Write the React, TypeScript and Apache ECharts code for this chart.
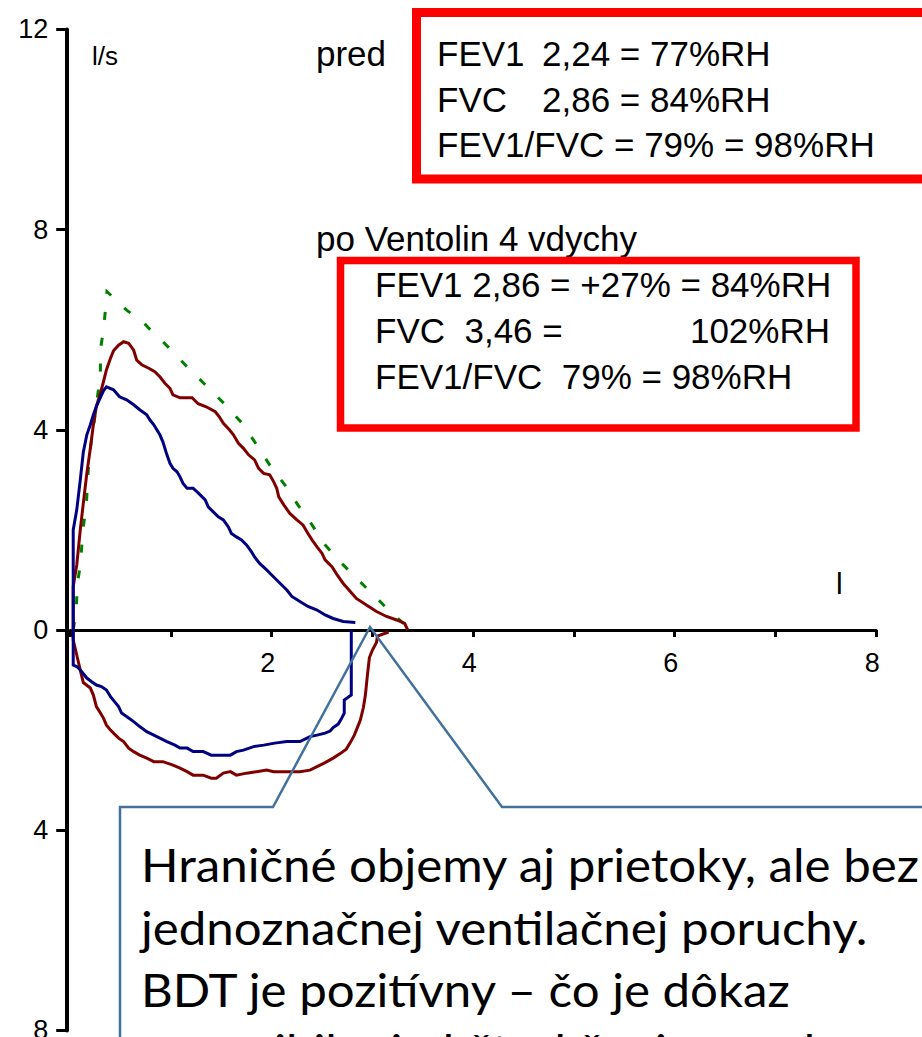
import React, { useEffect, useRef } from "react";
import * as echarts from "echarts";

// Flow–volume loops: predicted expiratory curve, pre-bronchodilator loop and post-Ventolin loop.
// Volume in litres on x, flow in l/s on y (inspiration drawn below zero).

const predExp: [number, number][] = [
  [0.03, 0], [0.06, 0.4], [0.07, 0.9], [0.1, 1.3], [0.13, 2.06], [0.16, 2.5], [0.18, 3.23],
  [0.2, 3.63], [0.23, 4.05], [0.26, 4.5], [0.28, 4.8], [0.3, 5.2], [0.3, 5.6], [0.33, 6.0],
  [0.35, 6.4], [0.365, 6.76], [0.51, 6.49], [0.56, 6.39], [0.72, 6.16], [0.78, 6.03],
  [0.92, 5.76], [0.97, 5.66], [1.16, 5.26], [1.34, 4.9], [1.54, 4.5], [1.72, 4.1],
  [1.85, 3.7], [1.98, 3.3], [2.13, 2.9], [2.26, 2.5], [2.4, 2.1], [2.53, 1.7], [2.71, 1.3],
  [2.91, 0.9], [3.11, 0.5], [3.34, 0.07], [3.35, 0],
];

const preExp: [number, number][] = [
  [0.03, 0], [0.03, 2.0], [0.065, 2.4], [0.1, 3.0], [0.13, 3.55], [0.165, 3.9], [0.2, 4.1],
  [0.23, 4.3], [0.26, 4.47], [0.3, 4.65], [0.33, 4.78], [0.36, 4.86], [0.43, 4.8], [0.46, 4.73],
  [0.49, 4.66], [0.56, 4.6], [0.63, 4.5], [0.69, 4.4], [0.76, 4.3], [0.79, 4.2], [0.83, 4.1],
  [0.86, 4.0], [0.89, 3.9], [0.92, 3.76], [0.96, 3.5], [0.99, 3.33], [1.02, 3.23], [1.06, 3.16],
  [1.09, 3.06], [1.12, 2.93], [1.16, 2.83], [1.22, 2.83], [1.26, 2.76], [1.29, 2.7], [1.34, 2.6],
  [1.37, 2.46], [1.42, 2.36], [1.47, 2.26], [1.52, 2.2], [1.57, 2.06], [1.6, 1.93], [1.65, 1.86],
  [1.7, 1.8], [1.75, 1.7], [1.8, 1.56], [1.83, 1.46], [1.88, 1.33], [1.95, 1.2], [2.0, 1.1],
  [2.05, 1.0], [2.1, 0.9], [2.15, 0.8], [2.2, 0.67], [2.28, 0.57], [2.36, 0.47], [2.45, 0.4],
  [2.53, 0.3], [2.61, 0.23], [2.71, 0.17], [2.83, 0.15],
];

const preInsp: [number, number][] = [
  [2.79, 0], [2.79, -1.3], [2.72, -1.4], [2.72, -1.66], [2.69, -1.78], [2.66, -1.88],
  [2.61, -1.95], [2.58, -2.02], [2.53, -2.06], [2.45, -2.1], [2.38, -2.13], [2.28, -2.23],
  [2.15, -2.23], [2.03, -2.26], [1.92, -2.3], [1.82, -2.33], [1.72, -2.4], [1.65, -2.43],
  [1.59, -2.5], [1.49, -2.5], [1.4, -2.5], [1.32, -2.43], [1.22, -2.43], [1.16, -2.36],
  [1.09, -2.36], [1.04, -2.3], [0.96, -2.23], [0.89, -2.16], [0.83, -2.1], [0.76, -2.03],
  [0.69, -1.93], [0.63, -1.83], [0.58, -1.76], [0.51, -1.66], [0.48, -1.53], [0.44, -1.43],
  [0.4, -1.33], [0.36, -1.2], [0.31, -1.13], [0.26, -1.1], [0.21, -1.03], [0.165, -0.96],
  [0.1, -0.8], [0.065, -0.73], [0.03, -0.7], [0.03, 0],
];

const postExp: [number, number][] = [
  [0.03, 0], [0.03, 0.87], [0.065, 1.3], [0.1, 2.0], [0.13, 2.53], [0.165, 3.13], [0.2, 3.63],
  [0.23, 4.1], [0.26, 4.47], [0.3, 4.73], [0.33, 4.96], [0.36, 5.2], [0.4, 5.43], [0.43, 5.58],
  [0.48, 5.69], [0.53, 5.76], [0.58, 5.73], [0.63, 5.59], [0.66, 5.39], [0.71, 5.3], [0.78, 5.23],
  [0.84, 5.16], [0.89, 5.06], [0.94, 4.93], [0.99, 4.83], [1.02, 4.7], [1.09, 4.64], [1.21, 4.64],
  [1.27, 4.52], [1.35, 4.46], [1.44, 4.36], [1.48, 4.26], [1.52, 4.13], [1.58, 4.0], [1.62, 3.9],
  [1.67, 3.73], [1.72, 3.63], [1.77, 3.5], [1.83, 3.4], [1.87, 3.23], [1.92, 3.13], [1.98, 3.1],
  [2.02, 2.96], [2.05, 2.83], [2.07, 2.66], [2.12, 2.5], [2.18, 2.33], [2.25, 2.2], [2.31, 2.1],
  [2.36, 1.93], [2.4, 1.8], [2.45, 1.66], [2.5, 1.53], [2.53, 1.4], [2.6, 1.26], [2.65, 1.1],
  [2.71, 0.93], [2.78, 0.77], [2.84, 0.63], [2.94, 0.5], [3.04, 0.37], [3.14, 0.27], [3.24, 0.2],
  [3.32, 0.13], [3.35, 0],
];

const postInsp: [number, number][] = [
  [3.16, -0.04], [3.05, -0.12], [3.04, -0.25], [3.0, -0.4], [2.97, -0.55], [2.95, -0.9],
  [2.93, -1.3], [2.91, -1.55], [2.88, -1.8], [2.85, -1.95], [2.82, -2.1], [2.78, -2.25],
  [2.74, -2.38], [2.68, -2.47], [2.61, -2.56], [2.53, -2.65], [2.45, -2.73], [2.38, -2.8],
  [2.28, -2.83], [2.15, -2.83], [2.02, -2.83], [1.95, -2.8], [1.85, -2.83], [1.75, -2.86],
  [1.65, -2.9], [1.59, -2.83], [1.52, -2.86], [1.45, -2.96], [1.4, -2.96], [1.32, -2.9],
  [1.22, -2.9], [1.16, -2.83], [1.09, -2.76], [1.02, -2.7], [0.92, -2.63], [0.83, -2.63],
  [0.76, -2.56], [0.69, -2.5], [0.63, -2.43], [0.58, -2.36], [0.53, -2.23], [0.48, -2.16],
  [0.43, -2.06], [0.4, -2.0], [0.36, -1.9], [0.33, -1.76], [0.3, -1.66], [0.26, -1.53],
  [0.23, -1.3], [0.2, -1.16], [0.13, -1.05], [0.1, -0.8], [0.065, -0.5], [0.03, -0.2], [0.03, 0],
];

const predLines = ["FEV1", "2,24 = 77%RH", "FVC", "2,86 = 84%RH", "FEV1/FVC = 79% = 98%RH"];
const postLines = ["FEV1 2,86 = +27% = 84%RH", "FVC  3,46 =", "102%RH", "FEV1/FVC  79% = 98%RH"];
const noteLines = [
  "Hraničné objemy aj prietoky, ale bez",
  "jednoznačnej ventilačnej poruchy.",
  "BDT je pozitívny – čo je dôkaz",
  "reverzibilnej obštrukčnej poruchy",
];

const PIX = '"Liberation Sans", Arial, sans-serif';
const NOTE = 'Lato, "Open Sans", sans-serif';

// flow axis spans -8..12 l/s; the volume axis is drawn where flow = 0
const Y_MIN = -8;
const Y_MAX = 12;
const GRID_TOP = 29.4;
const GRID_BOTTOM = 6.6;
const PLOT_H = 1037 - GRID_TOP - GRID_BOTTOM;
const ZERO_SHIFT = (PLOT_H * (0 - Y_MIN)) / (Y_MAX - Y_MIN);

function txt(text: string, x: number, y: number, size: number, align = "left", family = PIX, scaleX = 1) {
  return {
    type: "text",
    x,
    y,
    scaleX,
    silent: true,
    style: {
      text,
      fill: "#000",
      fontSize: size,
      fontFamily: family,
      align,
      textAlign: align,
      verticalAlign: "middle",
      textVerticalAlign: "middle",
    },
  };
}

export default function App() {
  const ref = useRef<HTMLDivElement>(null);

  useEffect(() => {
    if (!ref.current) return;
    const chart = echarts.init(ref.current, undefined, { renderer: "svg" });

    const curve = (name: string, data: [number, number][], color: string, dashed = false) => ({
      type: "line",
      name,
      data,
      symbol: "none",
      smooth: false,
      z: dashed ? 2 : 3,
      lineStyle: {
        color,
        width: 3,
        type: dashed ? [8, 18] : "solid",
        cap: "butt",
        join: "miter",
      },
    });

    chart.setOption({
      animation: false,
      backgroundColor: "#fff",
      grid: {
        left: 70.2,
        right: 45.8,
        top: GRID_TOP,
        bottom: GRID_BOTTOM,
        containLabel: false,
        outerBoundsMode: "none",
      },
      xAxis: {
        type: "value",
        min: 0,
        max: 8,
        interval: 1,
        position: "bottom",
        offset: -ZERO_SHIFT,
        axisLine: { onZero: false, lineStyle: { color: "#000", width: 3 } },
        axisTick: { show: true, inside: false, length: 7, lineStyle: { color: "#000", width: 3 } },
        axisLabel: {
          color: "#000",
          fontSize: 27,
          fontFamily: PIX,
          margin: 19,
          padding: [0, 8, 0, 0],
          formatter: (v: number) => (v > 0 && v % 2 === 0 ? String(v) : ""),
        },
        splitLine: { show: false },
      },
      yAxis: {
        type: "value",
        min: Y_MIN,
        max: Y_MAX,
        interval: 4,
        offset: 3,
        axisLine: { onZero: false, lineStyle: { color: "#000", width: 4 } },
        axisTick: { show: true, length: 11, lineStyle: { color: "#000", width: 3 } },
        axisLabel: {
          color: "#000",
          fontSize: 27,
          fontFamily: PIX,
          margin: 19,
          formatter: (v: number) => String(Math.abs(v)),
        },
        splitLine: { show: false },
      },
      series: [
        curve("náležitá hodnota", predExp, "#008000", true),
        curve("po Ventolin – výdych", postExp, "#800000"),
        curve("po Ventolin – nádych", postInsp, "#800000"),
        curve("pred – výdych", preExp, "#000080"),
        curve("pred – nádych", preInsp, "#000080"),
      ],
      graphic: [
        txt("l/s", 92, 56, 26),
        txt("l", 836, 583, 30),
        txt("pred", 316, 53, 35),
        {
          type: "rect",
          silent: true,
          shape: { x: 416.5, y: 12.5, width: 620, height: 166.5 },
          style: { fill: "none", stroke: "#ff0000", lineWidth: 9 },
        },
        txt(predLines[0], 437, 53, 35),
        txt(predLines[1], 542, 53, 35),
        txt(predLines[2], 437, 99.5, 35),
        txt(predLines[3], 542, 99.5, 35),
        txt(predLines[4], 437, 144, 35),
        txt("po Ventolin 4 vdychy", 316, 238.5, 35),
        {
          type: "rect",
          silent: true,
          shape: { x: 340.5, y: 260.5, width: 515.5, height: 167.5 },
          style: { fill: "none", stroke: "#ff0000", lineWidth: 7.5 },
        },
        txt(postLines[0], 375, 284.5, 35),
        txt(postLines[1], 375, 330.5, 35),
        txt(postLines[2], 830, 330.5, 35, "right"),
        txt(postLines[3], 375, 376.5, 35),
        {
          type: "polyline",
          silent: true,
          z: 100,
          shape: {
            points: [[120, 1050], [120, 807], [273, 807], [370, 627], [502, 807], [940, 807]],
          },
          style: { fill: "none", stroke: "#41719C", lineWidth: 2.5 },
        },
        txt(noteLines[0], 141, 864, 46, "left", NOTE, 1.07),
        txt(noteLines[1], 141, 927, 46, "left", NOTE, 1.07),
        txt(noteLines[2], 141, 989, 46, "left", NOTE, 1.07),
        txt(noteLines[3], 141, 1050, 46, "left", NOTE, 1.07),
      ],
    });

    return () => chart.dispose();
  }, []);

  return (
    <div
      ref={ref}
      style={{ position: "fixed", left: 0, top: 0, width: 922, height: 1037, background: "#fff" }}
    />
  );
}
